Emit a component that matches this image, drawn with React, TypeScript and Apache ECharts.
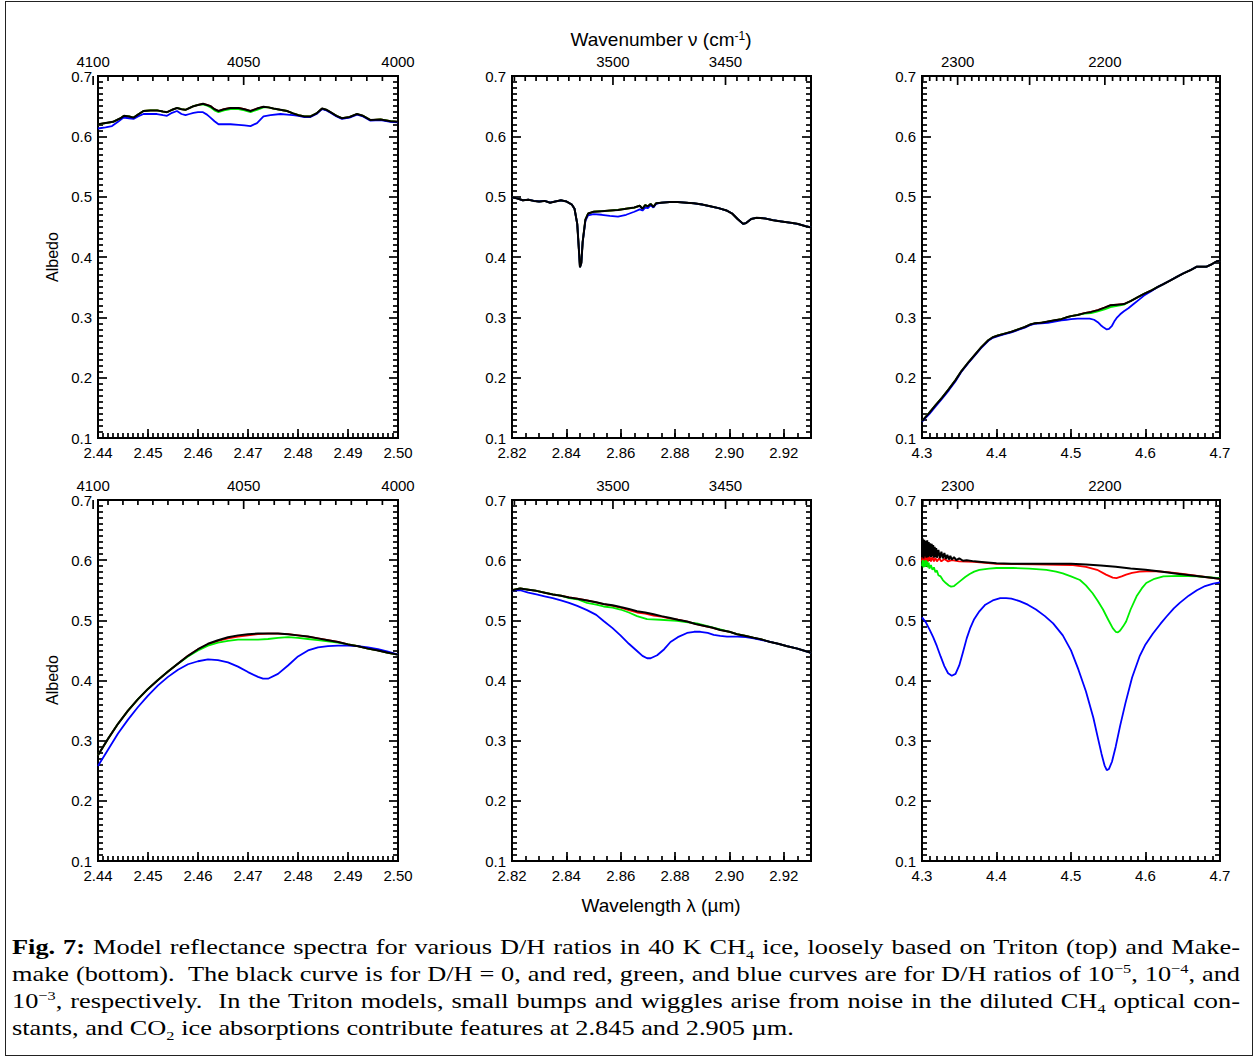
import React, { useEffect, useRef } from 'react';
import * as echarts from 'echarts';

// ---------------- data (wavelength µm, albedo) ----------------
// Top-left: Triton, 2.44–2.50 µm
const tlBlack = [
  [2.44, 0.62], [2.4415, 0.622], [2.443, 0.624], [2.4445, 0.63], [2.4452, 0.634], [2.4462, 0.633],
  [2.4471, 0.631], [2.448, 0.636], [2.4491, 0.642], [2.4505, 0.643], [2.4518, 0.643], [2.453, 0.641],
  [2.4538, 0.64], [2.4548, 0.644], [2.4558, 0.647], [2.4567, 0.645], [2.4575, 0.644], [2.4583, 0.647],
  [2.4591, 0.65], [2.46, 0.652], [2.461, 0.654], [2.4618, 0.652], [2.4625, 0.65], [2.4633, 0.645],
  [2.4641, 0.642], [2.4652, 0.645], [2.4665, 0.647], [2.4681, 0.647], [2.4693, 0.645], [2.4705, 0.642],
  [2.4718, 0.646], [2.4731, 0.649], [2.4741, 0.648], [2.4751, 0.646], [2.4765, 0.644], [2.4778, 0.642],
  [2.479, 0.638], [2.4801, 0.635], [2.4813, 0.633], [2.4825, 0.633], [2.4837, 0.638], [2.4848, 0.646],
  [2.4857, 0.644], [2.4865, 0.64], [2.4877, 0.634], [2.4888, 0.63], [2.4903, 0.632], [2.4918, 0.637],
  [2.493, 0.634], [2.4945, 0.627], [2.4965, 0.628], [2.4985, 0.625], [2.5, 0.624],
];
const tlRed = tlBlack;
const tlGreen = [
  [2.44, 0.62], [2.4415, 0.622], [2.443, 0.624], [2.4445, 0.63], [2.4452, 0.634], [2.4462, 0.633],
  [2.4471, 0.631], [2.448, 0.636], [2.4491, 0.642], [2.4505, 0.643], [2.4518, 0.643], [2.453, 0.641],
  [2.4538, 0.64], [2.4548, 0.644], [2.4558, 0.647], [2.4567, 0.645], [2.4575, 0.644], [2.4583, 0.647],
  [2.4591, 0.65], [2.46, 0.652], [2.461, 0.653], [2.4618, 0.651], [2.4625, 0.648], [2.4633, 0.643],
  [2.4641, 0.64], [2.4652, 0.643], [2.4665, 0.645], [2.4681, 0.645], [2.4693, 0.643], [2.4705, 0.64],
  [2.4718, 0.644], [2.4731, 0.648], [2.4741, 0.648], [2.4751, 0.646], [2.4765, 0.644], [2.4778, 0.642],
  [2.479, 0.638], [2.4801, 0.635], [2.4813, 0.633], [2.4825, 0.633], [2.4837, 0.638], [2.4848, 0.646],
  [2.4857, 0.644], [2.4865, 0.64], [2.4877, 0.634], [2.4888, 0.63], [2.4903, 0.632], [2.4918, 0.637],
  [2.493, 0.634], [2.4945, 0.627], [2.4965, 0.628], [2.4985, 0.625], [2.5, 0.624],
];
const tlBlue = [
  [2.44, 0.613], [2.4415, 0.615], [2.4428, 0.617], [2.444, 0.624], [2.4451, 0.631], [2.4462, 0.63],
  [2.4471, 0.629], [2.448, 0.633], [2.4491, 0.637], [2.4505, 0.637], [2.4518, 0.637], [2.453, 0.635],
  [2.4538, 0.634], [2.4548, 0.639], [2.4558, 0.642], [2.4567, 0.637], [2.4575, 0.635], [2.4583, 0.637],
  [2.4591, 0.639], [2.46, 0.64], [2.461, 0.64], [2.4618, 0.636], [2.4625, 0.631], [2.4633, 0.625],
  [2.4641, 0.62], [2.4652, 0.62], [2.4665, 0.62], [2.4681, 0.619], [2.4693, 0.618], [2.4705, 0.617],
  [2.4718, 0.622], [2.4731, 0.633], [2.4745, 0.635], [2.4765, 0.637], [2.4778, 0.636], [2.479, 0.635],
  [2.4801, 0.634], [2.4813, 0.632], [2.4825, 0.632], [2.4837, 0.637], [2.4848, 0.645],
  [2.4857, 0.643], [2.4865, 0.639], [2.4877, 0.633], [2.4888, 0.629], [2.4903, 0.631], [2.4918, 0.636],
  [2.493, 0.633], [2.4945, 0.626], [2.4965, 0.627], [2.4985, 0.624], [2.5, 0.623],
];

// Top-middle: Triton, 2.82–2.93 µm
const tmBlack = [
  [2.82, 0.499], [2.822, 0.497], [2.824, 0.494], [2.826, 0.495], [2.828, 0.493], [2.83, 0.492],
  [2.832, 0.493], [2.834, 0.49], [2.836, 0.492], [2.838, 0.494], [2.84, 0.492], [2.842, 0.487],
  [2.843, 0.48], [2.844, 0.455], [2.8445, 0.42], [2.845, 0.383], [2.8455, 0.39], [2.846, 0.425],
  [2.847, 0.462], [2.848, 0.472], [2.85, 0.475], [2.853, 0.476], [2.856, 0.477], [2.859, 0.478],
  [2.862, 0.48], [2.865, 0.482], [2.867, 0.485], [2.868, 0.48], [2.869, 0.486], [2.87, 0.484],
  [2.871, 0.488], [2.872, 0.483], [2.873, 0.489], [2.875, 0.49], [2.878, 0.491], [2.881, 0.491],
  [2.884, 0.49], [2.887, 0.489], [2.89, 0.487], [2.893, 0.484], [2.896, 0.481], [2.899, 0.477],
  [2.901, 0.472], [2.903, 0.463], [2.905, 0.455], [2.906, 0.456], [2.908, 0.463], [2.91, 0.465],
  [2.913, 0.464], [2.916, 0.461], [2.919, 0.459], [2.922, 0.457], [2.925, 0.455], [2.928, 0.451],
  [2.93, 0.449],
];
const tmRed = tmBlack;
const tmGreen = tmBlack;
const tmBlue = [
  [2.82, 0.499], [2.822, 0.497], [2.824, 0.494], [2.826, 0.495], [2.828, 0.493], [2.83, 0.492],
  [2.832, 0.493], [2.834, 0.49], [2.836, 0.492], [2.838, 0.494], [2.84, 0.492], [2.842, 0.487],
  [2.843, 0.48], [2.844, 0.455], [2.8445, 0.42], [2.845, 0.383], [2.8455, 0.39], [2.846, 0.425],
  [2.847, 0.46], [2.848, 0.469], [2.85, 0.471], [2.853, 0.47], [2.856, 0.468], [2.859, 0.467],
  [2.862, 0.47], [2.865, 0.475], [2.867, 0.479], [2.868, 0.477], [2.869, 0.482], [2.87, 0.481],
  [2.871, 0.486], [2.872, 0.482], [2.873, 0.488], [2.875, 0.49], [2.878, 0.491], [2.881, 0.491],
  [2.884, 0.49], [2.887, 0.489], [2.89, 0.487], [2.893, 0.484], [2.896, 0.481], [2.899, 0.477],
  [2.901, 0.472], [2.903, 0.463], [2.905, 0.455], [2.906, 0.456], [2.908, 0.463], [2.91, 0.465],
  [2.913, 0.464], [2.916, 0.461], [2.919, 0.459], [2.922, 0.457], [2.925, 0.455], [2.928, 0.451],
  [2.93, 0.449],
];

// Top-right: Triton, 4.3–4.7 µm
const trBlack = [
  [4.3, 0.128], [4.31, 0.142], [4.318, 0.154], [4.327, 0.167], [4.336, 0.181], [4.345, 0.196],
  [4.353, 0.211], [4.362, 0.225], [4.371, 0.238], [4.38, 0.251], [4.389, 0.262], [4.395, 0.267],
  [4.402, 0.27], [4.411, 0.273], [4.42, 0.276], [4.429, 0.28], [4.438, 0.284], [4.445, 0.288],
  [4.451, 0.29], [4.46, 0.291], [4.469, 0.293], [4.478, 0.295], [4.487, 0.297], [4.494, 0.3],
  [4.5, 0.302], [4.509, 0.304], [4.518, 0.307], [4.527, 0.309], [4.536, 0.312], [4.545, 0.316],
  [4.553, 0.32], [4.562, 0.321], [4.571, 0.322], [4.58, 0.327], [4.589, 0.333], [4.598, 0.339],
  [4.607, 0.344], [4.616, 0.35], [4.624, 0.355], [4.633, 0.361], [4.642, 0.367], [4.651, 0.373],
  [4.66, 0.378], [4.669, 0.384], [4.676, 0.384], [4.682, 0.384], [4.689, 0.388], [4.696, 0.393],
  [4.7, 0.394],
];
const trRed = trBlack;
const trGreen = [
  [4.3, 0.128], [4.31, 0.142], [4.318, 0.154], [4.327, 0.167], [4.336, 0.181], [4.345, 0.196],
  [4.353, 0.211], [4.362, 0.225], [4.371, 0.238], [4.38, 0.251], [4.389, 0.262], [4.395, 0.267],
  [4.402, 0.27], [4.411, 0.273], [4.42, 0.276], [4.429, 0.28], [4.438, 0.284], [4.445, 0.288],
  [4.451, 0.29], [4.46, 0.291], [4.469, 0.293], [4.478, 0.295], [4.487, 0.297], [4.494, 0.3],
  [4.5, 0.302], [4.509, 0.304], [4.518, 0.306], [4.527, 0.307], [4.536, 0.31], [4.545, 0.313],
  [4.553, 0.317], [4.562, 0.319], [4.571, 0.321], [4.58, 0.327], [4.589, 0.333], [4.598, 0.339],
  [4.607, 0.344], [4.616, 0.35], [4.624, 0.355], [4.633, 0.361], [4.642, 0.367], [4.651, 0.373],
  [4.66, 0.378], [4.669, 0.384], [4.676, 0.384], [4.682, 0.384], [4.689, 0.388], [4.696, 0.393],
  [4.7, 0.394],
];
const trBlue = [
  [4.3, 0.127], [4.31, 0.14], [4.318, 0.152], [4.327, 0.165], [4.336, 0.179], [4.345, 0.194],
  [4.353, 0.21], [4.362, 0.224], [4.371, 0.237], [4.38, 0.25], [4.389, 0.261], [4.395, 0.266],
  [4.402, 0.269], [4.411, 0.272], [4.42, 0.275], [4.429, 0.279], [4.438, 0.283], [4.445, 0.287],
  [4.451, 0.289], [4.46, 0.29], [4.469, 0.291], [4.478, 0.293], [4.487, 0.295], [4.494, 0.296],
  [4.5, 0.297], [4.509, 0.298], [4.518, 0.298], [4.525, 0.298], [4.531, 0.296], [4.536, 0.292],
  [4.54, 0.287], [4.544, 0.283], [4.548, 0.28], [4.551, 0.281], [4.555, 0.286], [4.558, 0.293],
  [4.562, 0.3], [4.566, 0.305], [4.571, 0.31], [4.577, 0.315], [4.584, 0.322], [4.591, 0.329],
  [4.598, 0.336], [4.607, 0.343], [4.616, 0.35], [4.624, 0.355], [4.633, 0.361], [4.642, 0.367],
  [4.651, 0.373], [4.66, 0.378], [4.669, 0.384], [4.676, 0.384], [4.682, 0.384], [4.689, 0.388],
  [4.696, 0.393], [4.7, 0.394],
];

// Bottom-left: Makemake, 2.44–2.50 µm
const blBlack = [
  [2.44, 0.276], [2.442, 0.303], [2.444, 0.328], [2.446, 0.35], [2.448, 0.369], [2.45, 0.386],
  [2.452, 0.401], [2.454, 0.415], [2.456, 0.428], [2.458, 0.441], [2.46, 0.452], [2.462, 0.461],
  [2.464, 0.467], [2.466, 0.472], [2.468, 0.475], [2.47, 0.477], [2.472, 0.478], [2.474, 0.478],
  [2.476, 0.478], [2.478, 0.477], [2.48, 0.475], [2.482, 0.473], [2.484, 0.47], [2.486, 0.467],
  [2.488, 0.464], [2.49, 0.46], [2.492, 0.457], [2.494, 0.453], [2.496, 0.45], [2.498, 0.446],
  [2.5, 0.443],
];
const blRed = [
  [2.44, 0.276], [2.442, 0.303], [2.444, 0.328], [2.446, 0.35], [2.448, 0.369], [2.45, 0.386],
  [2.452, 0.401], [2.454, 0.415], [2.456, 0.428], [2.458, 0.441], [2.46, 0.452], [2.462, 0.46],
  [2.464, 0.466], [2.466, 0.47], [2.468, 0.473], [2.47, 0.475], [2.472, 0.477], [2.474, 0.478],
  [2.476, 0.478], [2.478, 0.477], [2.48, 0.475], [2.482, 0.473], [2.484, 0.47], [2.486, 0.467],
  [2.488, 0.464], [2.49, 0.46], [2.492, 0.457], [2.494, 0.453], [2.496, 0.45], [2.498, 0.446],
  [2.5, 0.443],
];
const blGreen = [
  [2.44, 0.276], [2.442, 0.303], [2.444, 0.328], [2.446, 0.35], [2.448, 0.369], [2.45, 0.386],
  [2.452, 0.401], [2.454, 0.415], [2.456, 0.428], [2.458, 0.44], [2.46, 0.45], [2.462, 0.458],
  [2.464, 0.463], [2.466, 0.466], [2.468, 0.468], [2.47, 0.468], [2.472, 0.468], [2.474, 0.469],
  [2.476, 0.471], [2.478, 0.472], [2.48, 0.471], [2.482, 0.469], [2.484, 0.467], [2.486, 0.465],
  [2.488, 0.463], [2.49, 0.46], [2.492, 0.457], [2.494, 0.453], [2.496, 0.45], [2.498, 0.446],
  [2.5, 0.443],
];
const blBlue = [
  [2.44, 0.258], [2.442, 0.285], [2.444, 0.312], [2.446, 0.335], [2.448, 0.356], [2.45, 0.375],
  [2.452, 0.392], [2.454, 0.406], [2.456, 0.418], [2.458, 0.427], [2.46, 0.432], [2.462, 0.435],
  [2.464, 0.434], [2.466, 0.43], [2.468, 0.423], [2.47, 0.414], [2.472, 0.406], [2.473, 0.403],
  [2.474, 0.403], [2.476, 0.411], [2.478, 0.425], [2.48, 0.44], [2.482, 0.45], [2.484, 0.455],
  [2.486, 0.457], [2.488, 0.458], [2.49, 0.458], [2.492, 0.457], [2.494, 0.455], [2.496, 0.452],
  [2.498, 0.448], [2.5, 0.443],
];

// Bottom-middle: Makemake, 2.82–2.93 µm
const bmBlack = [
  [2.82, 0.55], [2.823, 0.553], [2.826, 0.551], [2.829, 0.549], [2.832, 0.546], [2.835, 0.543],
  [2.838, 0.541], [2.841, 0.538], [2.844, 0.536], [2.8476, 0.533], [2.851, 0.53], [2.8537, 0.527],
  [2.857, 0.525], [2.8599, 0.522], [2.863, 0.519], [2.866, 0.515], [2.869, 0.513], [2.8721, 0.51],
  [2.875, 0.507], [2.8783, 0.504], [2.881, 0.501], [2.8844, 0.498], [2.8875, 0.494], [2.8905, 0.491],
  [2.8935, 0.488], [2.8966, 0.484], [2.9, 0.481], [2.9028, 0.477], [2.906, 0.474], [2.9089, 0.471],
  [2.912, 0.468], [2.915, 0.464], [2.918, 0.461], [2.9212, 0.457], [2.925, 0.453], [2.93, 0.446],
];
const bmRed = [
  [2.82, 0.55], [2.823, 0.553], [2.826, 0.551], [2.829, 0.549], [2.832, 0.546], [2.835, 0.543],
  [2.838, 0.541], [2.841, 0.538], [2.844, 0.536], [2.8476, 0.533], [2.851, 0.53], [2.8537, 0.527],
  [2.857, 0.524], [2.8599, 0.521], [2.863, 0.517], [2.866, 0.513], [2.869, 0.511], [2.8721, 0.508],
  [2.875, 0.506], [2.8783, 0.503], [2.881, 0.501], [2.8844, 0.498], [2.8875, 0.494], [2.8905, 0.491],
  [2.8935, 0.488], [2.8966, 0.484], [2.9, 0.481], [2.9028, 0.477], [2.906, 0.474], [2.9089, 0.471],
  [2.912, 0.468], [2.915, 0.464], [2.918, 0.461], [2.9212, 0.457], [2.925, 0.453], [2.93, 0.446],
];
const bmGreen = [
  [2.82, 0.55], [2.823, 0.553], [2.826, 0.551], [2.829, 0.549], [2.832, 0.546], [2.835, 0.543],
  [2.838, 0.541], [2.841, 0.537], [2.844, 0.535], [2.8476, 0.529], [2.851, 0.526], [2.8537, 0.523],
  [2.857, 0.521], [2.8599, 0.518], [2.863, 0.513], [2.866, 0.507], [2.8697, 0.502], [2.8746, 0.501],
  [2.8807, 0.499], [2.884, 0.497], [2.888, 0.495], [2.8905, 0.492], [2.894, 0.488], [2.8966, 0.485],
  [2.9, 0.481], [2.9028, 0.477], [2.906, 0.474], [2.9089, 0.471], [2.912, 0.468], [2.915, 0.464],
  [2.918, 0.461], [2.9212, 0.457], [2.925, 0.453], [2.93, 0.446],
];
const bmBlue = [
  [2.82, 0.55], [2.823, 0.55], [2.826, 0.546], [2.829, 0.543], [2.832, 0.54], [2.835, 0.537],
  [2.838, 0.533], [2.841, 0.529], [2.844, 0.524], [2.8476, 0.517], [2.851, 0.509], [2.8537, 0.499],
  [2.857, 0.487], [2.8599, 0.475], [2.863, 0.461], [2.866, 0.449], [2.868, 0.441], [2.8697, 0.437],
  [2.871, 0.437], [2.8734, 0.442], [2.876, 0.452], [2.8783, 0.464], [2.881, 0.472], [2.8844, 0.479],
  [2.887, 0.481], [2.8893, 0.481], [2.892, 0.479], [2.8942, 0.476], [2.8966, 0.474], [2.8991, 0.473],
  [2.903, 0.473], [2.906, 0.472], [2.9089, 0.47], [2.912, 0.467], [2.915, 0.464], [2.918, 0.461],
  [2.9212, 0.457], [2.925, 0.453], [2.93, 0.446],
];

// Bottom-right: Makemake, 4.3–4.7 µm
const brBlack = [
  [4.3, 0.605], [4.301, 0.636], [4.302, 0.603], [4.303, 0.634], [4.304, 0.606], [4.305, 0.632],
  [4.306, 0.604], [4.307, 0.633], [4.308, 0.605], [4.309, 0.63], [4.31, 0.606], [4.311, 0.628],
  [4.312, 0.605], [4.313, 0.627], [4.314, 0.606], [4.315, 0.625], [4.316, 0.604], [4.317, 0.622],
  [4.318, 0.605], [4.319, 0.62], [4.32, 0.604], [4.322, 0.617], [4.324, 0.603], [4.326, 0.614],
  [4.328, 0.603], [4.33, 0.612], [4.332, 0.602], [4.334, 0.609], [4.336, 0.601], [4.338, 0.607],
  [4.34, 0.601], [4.343, 0.605], [4.346, 0.6], [4.35, 0.603], [4.355, 0.599], [4.36, 0.6],
  [4.37, 0.598], [4.38, 0.597], [4.4, 0.595], [4.42, 0.594], [4.44, 0.594], [4.46, 0.594],
  [4.48, 0.594], [4.5, 0.594], [4.52, 0.593], [4.54, 0.591], [4.56, 0.589], [4.58, 0.586],
  [4.6, 0.584], [4.62, 0.581], [4.64, 0.578], [4.66, 0.575], [4.68, 0.572], [4.7, 0.569],
];
const brRed = [
  [4.3, 0.598], [4.301, 0.609], [4.302, 0.597], [4.303, 0.608], [4.304, 0.598], [4.305, 0.607],
  [4.306, 0.597], [4.307, 0.606], [4.308, 0.598], [4.31, 0.606], [4.312, 0.598], [4.314, 0.605],
  [4.316, 0.598], [4.318, 0.604], [4.32, 0.598], [4.323, 0.603], [4.326, 0.598], [4.33, 0.602],
  [4.335, 0.598], [4.34, 0.6], [4.35, 0.598], [4.37, 0.597], [4.4, 0.594], [4.45, 0.593],
  [4.5, 0.592], [4.52, 0.589], [4.535, 0.584], [4.547, 0.576], [4.556, 0.571], [4.561, 0.57],
  [4.568, 0.573], [4.574, 0.576], [4.582, 0.579], [4.592, 0.581], [4.61, 0.582], [4.63, 0.58],
  [4.65, 0.577], [4.68, 0.572], [4.7, 0.569],
];
const brGreen = [
  [4.3, 0.59], [4.301, 0.6], [4.302, 0.588], [4.303, 0.599], [4.304, 0.589], [4.305, 0.6],
  [4.306, 0.59], [4.307, 0.598], [4.308, 0.588], [4.309, 0.596], [4.31, 0.586], [4.312, 0.592],
  [4.314, 0.584], [4.316, 0.588], [4.318, 0.58], [4.32, 0.583], [4.322, 0.575], [4.325, 0.573],
  [4.328, 0.567], [4.332, 0.562], [4.336, 0.558], [4.339, 0.556], [4.343, 0.557], [4.347, 0.561],
  [4.352, 0.566], [4.358, 0.572], [4.364, 0.577], [4.37, 0.581], [4.377, 0.584], [4.39, 0.586],
  [4.4, 0.587], [4.422, 0.587], [4.444, 0.586], [4.467, 0.584], [4.48, 0.581], [4.489, 0.578],
  [4.5, 0.573], [4.512, 0.567], [4.52, 0.558], [4.529, 0.545], [4.536, 0.532], [4.543, 0.518],
  [4.55, 0.501], [4.556, 0.487], [4.56, 0.481], [4.563, 0.48], [4.566, 0.483], [4.57, 0.49],
  [4.574, 0.498], [4.58, 0.518], [4.588, 0.54], [4.595, 0.553], [4.601, 0.562], [4.612, 0.569],
  [4.624, 0.573], [4.646, 0.574], [4.669, 0.573], [4.7, 0.57],
];
const brBlue = [
  [4.3, 0.505], [4.305, 0.497], [4.31, 0.485], [4.315, 0.472], [4.32, 0.457], [4.325, 0.44],
  [4.33, 0.424], [4.335, 0.412], [4.34, 0.408], [4.345, 0.411], [4.35, 0.425], [4.355, 0.447],
  [4.36, 0.47], [4.365, 0.488], [4.37, 0.502], [4.377, 0.515], [4.385, 0.526], [4.395, 0.533],
  [4.405, 0.537], [4.413, 0.537], [4.42, 0.536], [4.431, 0.532], [4.442, 0.526], [4.453, 0.518],
  [4.465, 0.507], [4.476, 0.495], [4.489, 0.475], [4.5, 0.45], [4.51, 0.418], [4.52, 0.382],
  [4.53, 0.338], [4.536, 0.305], [4.541, 0.278], [4.545, 0.259], [4.548, 0.251], [4.551, 0.253],
  [4.555, 0.265], [4.56, 0.29], [4.566, 0.325], [4.573, 0.362], [4.582, 0.405], [4.592, 0.44],
  [4.6, 0.46], [4.61, 0.478], [4.62, 0.494], [4.628, 0.506], [4.638, 0.52], [4.646, 0.529],
  [4.658, 0.541], [4.669, 0.55], [4.68, 0.557], [4.691, 0.561], [4.7, 0.563],
];

// top-axis (wavenumber, cm^-1) labelled ticks per column
const leftNuLabels = [4100, 4050, 4000];
const midNuLabels = [3500, 3450];
const rightNuLabels = [2300, 2200];

// ---------------- layout / style ----------------
const SANS = '"Liberation Sans", Arial, Helvetica, sans-serif';
const SERIF = '"Liberation Serif", "Times New Roman", serif';
const Y_MIN = 0.1;
const Y_MAX = 0.7;
const COLORS: Record<string, string> = { red: '#ff0000', green: '#00ee00', blue: '#0000ff', black: '#000000' };

const columns = [
  { left: 98, width: 300, xMin: 2.44, xMax: 2.5, xInt: 0.01, xMinor: 0.001, dec: 2, nuLabels: leftNuLabels },
  { left: 512, width: 299, xMin: 2.82, xMax: 2.93, xInt: 0.02, xMinor: 0.005, dec: 2, nuLabels: midNuLabels },
  { left: 922, width: 298, xMin: 4.3, xMax: 4.7, xInt: 0.1, xMinor: 0.01, dec: 1, nuLabels: rightNuLabels },
];
const rows = [
  { top: 76, height: 362 },
  { top: 500, height: 361 },
];
const panelData = [
  [{ red: tlRed, green: tlGreen, blue: tlBlue, black: tlBlack },
   { red: tmRed, green: tmGreen, blue: tmBlue, black: tmBlack },
   { red: trRed, green: trGreen, blue: trBlue, black: trBlack }],
  [{ red: blRed, green: blGreen, blue: blBlue, black: blBlack },
   { red: bmRed, green: bmGreen, blue: bmBlue, black: bmBlack },
   { red: brRed, green: brGreen, blue: brBlue, black: brBlack }],
];

function buildOption() {
  const grid: any[] = [];
  const xAxis: any[] = [];
  const yAxis: any[] = [];
  const series: any[] = [];
  const tickStyle = { color: '#000', width: 1.7 };

  rows.forEach((r, ri) => {
    columns.forEach((c, ci) => {
      const gi = grid.length;
      grid.push({
        left: c.left, top: r.top, width: c.width, height: r.height,
        show: true, borderColor: '#000', borderWidth: 2, backgroundColor: 'transparent',
      });
      const xi = xAxis.length;
      const step = c.xInt;
      xAxis.push({
        type: 'value', gridIndex: gi, position: 'bottom', min: c.xMin, max: c.xMax, interval: c.xInt,
        axisLine: { show: false }, splitLine: { show: false },
        axisTick: { show: true, inside: true, length: 9, lineStyle: tickStyle },
        axisLabel: {
          show: true, color: '#000', fontSize: 15, fontFamily: SANS, margin: 7,
          formatter: (v: number) => {
            const k = v / step;
            return Math.abs(k - Math.round(k)) < 1e-6 ? v.toFixed(c.dec) : '';
          },
        },
      });
      // minor ticks along the wavelength axis
      xAxis.push({
        type: 'value', gridIndex: gi, position: 'bottom', min: c.xMin, max: c.xMax, interval: c.xMinor,
        axisLine: { show: false }, splitLine: { show: false }, axisLabel: { show: false },
        axisTick: { show: true, inside: true, length: 5, lineStyle: tickStyle },
      });
      const yi = yAxis.length;
      yAxis.push({
        type: 'value', gridIndex: gi, position: 'left', min: Y_MIN, max: Y_MAX, interval: 0.1,
        axisLine: { show: false }, splitLine: { show: false },
        axisTick: { show: true, inside: true, length: 9, lineStyle: tickStyle },
        minorTick: { show: true, splitNumber: 10, length: 5, lineStyle: tickStyle },
        axisLabel: { show: true, color: '#000', fontSize: 15, fontFamily: SANS, margin: 6, formatter: (v: number) => v.toFixed(1) },
      });
      yAxis.push({
        type: 'value', gridIndex: gi, position: 'right', min: Y_MIN, max: Y_MAX, interval: 0.1,
        axisLine: { show: false }, splitLine: { show: false }, axisLabel: { show: false },
        axisTick: { show: true, inside: true, length: 9, lineStyle: tickStyle },
        minorTick: { show: true, splitNumber: 10, length: 5, lineStyle: tickStyle },
      });

      // spectra
      const d: any = panelData[ri][ci];
      ['red', 'green', 'blue', 'black'].forEach((k) => {
        series.push({
          type: 'line', xAxisIndex: xi, yAxisIndex: yi, data: d[k], showSymbol: false, symbol: 'none',
          lineStyle: { color: COLORS[k], width: k === 'black' ? 2 : 1.8 }, itemStyle: { color: COLORS[k] },
          silent: true, clip: true, z: 3,
        });
      });

      // top wavenumber axis drawn through the wavelength scale (λ = 1e4 / ν)
      const nuHi = Math.round(1e4 / c.xMin / 5) * 5;
      const nuLo = Math.round(1e4 / c.xMax / 5) * 5;
      const ticks: number[][] = [];
      const labels: string[] = [];
      for (let nu = nuHi; nu >= nuLo; nu -= 5) {
        ticks.push([1e4 / nu, nu % 50 === 0 ? 1 : 0]);
        labels.push(c.nuLabels.indexOf(nu) >= 0 ? String(nu) : '');
      }
      series.push({
        type: 'custom', xAxisIndex: xi, yAxisIndex: yi, silent: true, clip: false, z: 5,
        data: ticks,
        renderItem: (params: any, api: any) => {
          const lam = api.value(0);
          const major = api.value(1);
          const p = api.coord([lam, Y_MAX]);
          const len = major ? 9 : 5;
          const children: any[] = [{
            type: 'line', shape: { x1: p[0], y1: p[1], x2: p[0], y2: p[1] + len },
            style: { stroke: '#000', lineWidth: 1.7 },
          }];
          const lab = labels[params.dataIndex];
          if (lab) {
            children.push({
              type: 'text', x: p[0], y: p[1] - 7,
              style: { text: lab, fill: '#000', fontSize: 15, fontFamily: SANS, align: 'center', verticalAlign: 'bottom' },
            });
          }
          return { type: 'group', children };
        },
      });
    });
  });

  const graphic: any[] = [
    {
      type: 'text', x: 661, y: 39,
      style: {
        text: '{a|Wavenumber ν (cm}{s|-1}{a|)}', align: 'center', verticalAlign: 'middle', fill: '#000',
        rich: { a: { fontSize: 19, fontFamily: SANS, fill: '#000' }, s: { fontSize: 12, fontFamily: SANS, fill: '#000', verticalAlign: 'top' } },
      },
    },
    {
      type: 'text', x: 661, y: 905,
      style: { text: 'Wavelength λ (µm)', align: 'center', verticalAlign: 'middle', fill: '#000', fontSize: 19, fontFamily: SANS },
    },
    {
      type: 'text', x: 52, y: 257, rotation: Math.PI / 2,
      style: { text: 'Albedo', align: 'center', verticalAlign: 'middle', fill: '#000', fontSize: 16, fontFamily: SANS },
    },
    {
      type: 'text', x: 52, y: 680, rotation: Math.PI / 2,
      style: { text: 'Albedo', align: 'center', verticalAlign: 'middle', fill: '#000', fontSize: 16, fontFamily: SANS },
    },
  ];

  return { animation: false, backgroundColor: '#ffffff', grid, xAxis, yAxis, series, graphic };
}

const CAP_SCALE = 1.225;
const CAP_WIDTH = 1228 / CAP_SCALE;
const lineStyle: React.CSSProperties = { textAlign: 'justify', textAlignLast: 'justify' as any, height: 27, whiteSpace: 'nowrap' };

export default function App() {
  const ref = useRef<HTMLDivElement>(null);
  useEffect(() => {
    if (!ref.current) return;
    const chart = echarts.init(ref.current, null as any, { renderer: 'svg' });
    chart.setOption(buildOption() as any);
    return () => chart.dispose();
  }, []);

  const sup: React.CSSProperties = { fontSize: '0.62em', verticalAlign: 'super', lineHeight: 0 };
  const sub: React.CSSProperties = { fontSize: '0.62em', verticalAlign: 'sub', lineHeight: 0 };

  return (
    <div style={{ position: 'absolute', left: 0, top: 0, width: 1255, height: 1057, background: '#fff', overflow: 'hidden' }}>
      <div ref={ref} style={{ position: 'absolute', left: 0, top: 0, width: 1255, height: 925 }} />
      <div style={{ position: 'absolute', left: 5, top: 1, width: 1248, height: 1055, border: '1.5px solid #222', boxSizing: 'border-box', pointerEvents: 'none' }} />
      <div style={{
        position: 'absolute', left: 12, top: 934, width: CAP_WIDTH, fontFamily: SERIF, fontSize: 21.5,
        lineHeight: '27px', color: '#000', transform: `scaleX(${CAP_SCALE})`, transformOrigin: 'left top',
      }}>
        <div style={lineStyle}>
          <b>Fig. 7:</b> Model reflectance spectra for various D/H ratios in 40 K CH<span style={sub}>4</span> ice, loosely based on Triton (top) and Make-
        </div>
        <div style={lineStyle}>
          make (bottom).{'\u00a0 '}The black curve is for D/H = 0, and red, green, and blue curves are for D/H ratios of 10<span style={sup}>−5</span>, 10<span style={sup}>−4</span>, and
        </div>
        <div style={lineStyle}>
          10<span style={sup}>−3</span>, respectively.{'\u00a0 '}In the Triton models, small bumps and wiggles arise from noise in the diluted CH<span style={sub}>4</span> optical con-
        </div>
        <div style={{ height: 27, whiteSpace: 'nowrap' }}>
          stants, and CO<span style={sub}>2</span> ice absorptions contribute features at 2.845 and 2.905 µm.
        </div>
      </div>
    </div>
  );
}
